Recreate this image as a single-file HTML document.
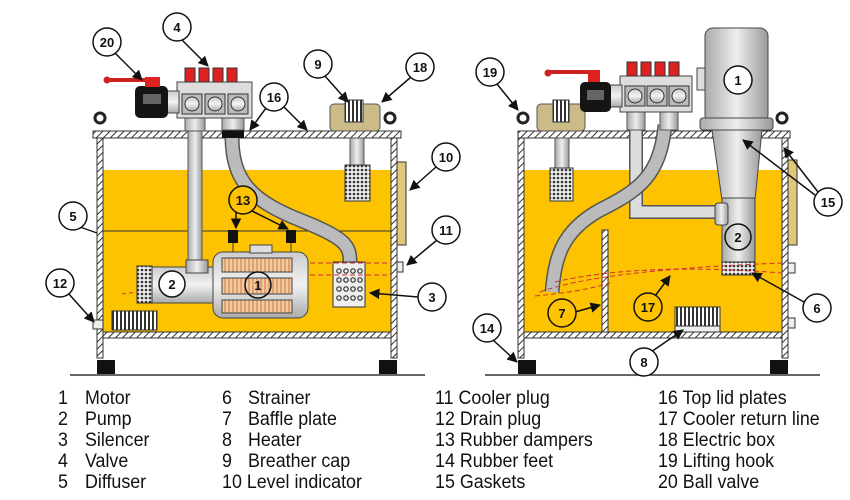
<!DOCTYPE html>
<html><head><meta charset="utf-8"><style>
html,body{margin:0;padding:0;background:#fff;}
svg{display:block;}
.t{font-family:"Liberation Sans",sans-serif;font-size:19px;fill:#111;}
.c{font-family:"Liberation Sans",sans-serif;font-size:13px;font-weight:bold;fill:#111;text-anchor:middle;}
</style></head><body>
<svg width="850" height="500" viewBox="0 0 850 500" xmlns="http://www.w3.org/2000/svg">
<defs>
<pattern id="h" width="5" height="5" patternUnits="userSpaceOnUse" patternTransform="rotate(45)"><rect width="5" height="5" fill="#fff"/><line x1="0" y1="0" x2="0" y2="5" stroke="#333" stroke-width="2"/></pattern>
<pattern id="m" width="4" height="4" patternUnits="userSpaceOnUse"><rect width="4" height="4" fill="#eee"/><circle cx="2" cy="2" r="1.3" fill="#333"/></pattern>
<pattern id="f" width="4" height="4" patternUnits="userSpaceOnUse"><rect width="4" height="4" fill="#f3c9a0"/><line x1="1" y1="0" x2="1" y2="4" stroke="#c97a40" stroke-width="1"/></pattern>
<pattern id="hz" width="4" height="4" patternUnits="userSpaceOnUse"><rect width="4" height="4" fill="#fff"/><line x1="1" y1="0" x2="1" y2="4" stroke="#333" stroke-width="2"/></pattern>
<linearGradient id="g" x1="0" y1="0" x2="1" y2="0"><stop offset="0" stop-color="#aaa"/><stop offset="0.5" stop-color="#eee"/><stop offset="1" stop-color="#999"/></linearGradient>
<linearGradient id="gv" x1="0" y1="0" x2="0" y2="1"><stop offset="0" stop-color="#ccc"/><stop offset="0.5" stop-color="#f2f2f2"/><stop offset="1" stop-color="#aaa"/></linearGradient>
<marker id="a" viewBox="0 0 10 10" refX="9" refY="5" markerWidth="7" markerHeight="7" orient="auto"><path d="M0,0L10,5L0,10z" fill="#111"/></marker>
</defs>

<!-- ============ LEFT TANK ============ -->
<line x1="70" y1="375" x2="425" y2="375" stroke="#333" stroke-width="1.5"/>
<rect x="103" y="170" width="288" height="162" fill="#fdc300"/>
<line x1="103" y1="231" x2="391" y2="231" stroke="#333" stroke-width="1"/>
<rect x="97" y="138" width="6" height="220" fill="url(#h)" stroke="#333"/>
<rect x="391" y="138" width="6" height="220" fill="url(#h)" stroke="#333"/>
<rect x="93" y="131" width="308" height="7" fill="url(#h)" stroke="#333"/>
<rect x="103" y="332" width="288" height="6" fill="url(#h)" stroke="#333"/>
<rect x="97" y="360" width="18" height="14" fill="#111"/><rect x="379" y="360" width="18" height="14" fill="#111"/>
<circle cx="100" cy="118" r="5" fill="none" stroke="#222" stroke-width="3"/>
<circle cx="390" cy="118" r="5" fill="none" stroke="#222" stroke-width="3"/>
<rect x="397" y="162" width="9" height="83" fill="#e2c77a" stroke="#333"/>
<rect x="397" y="262" width="6" height="10" fill="#eee" stroke="#333"/>
<rect x="93" y="320" width="10" height="9" fill="#eee" stroke="#333"/>
<rect x="112" y="311" width="45" height="19" fill="url(#hz)" stroke="#333"/>
<rect x="188" y="118" width="14" height="145" fill="url(#g)" stroke="#555"/>
<path d="M232,136 C232,180 250,200 300,220 C345,238 350,245 350,262" fill="none" stroke="#555" stroke-width="15"/>
<path d="M232,136 C232,180 250,200 300,220 C345,238 350,245 350,262" fill="none" stroke="#bbb" stroke-width="12"/>
<rect x="222" y="129" width="22" height="9" fill="#111"/>
<rect x="150" y="267" width="68" height="36" fill="url(#gv)" stroke="#444"/>
<rect x="137" y="266" width="15" height="37" fill="url(#m)" stroke="#333"/>
<rect x="186" y="260" width="22" height="13" fill="url(#g)" stroke="#444"/>
<rect x="213" y="252" width="95" height="66" rx="10" fill="url(#gv)" stroke="#444"/>
<rect x="250" y="245" width="22" height="8" fill="#ddd" stroke="#444"/>
<rect x="222" y="258" width="70" height="14" fill="url(#f)" stroke="#444"/>
<rect x="222" y="278" width="70" height="16" fill="url(#f)" stroke="#444"/>
<rect x="222" y="300" width="70" height="13" fill="url(#f)" stroke="#444"/>
<rect x="228" y="230" width="10" height="13" fill="#111"/><rect x="286" y="230" width="10" height="13" fill="#111"/>
<line x1="233" y1="243" x2="233" y2="252" stroke="#333"/><line x1="291" y1="243" x2="291" y2="252" stroke="#333"/>
<rect x="333" y="262" width="32" height="45" fill="#eee" stroke="#333"/>
<g fill="none" stroke="#333" stroke-width="1.2">
<circle cx="339" cy="271" r="2.2"/><circle cx="346" cy="271" r="2.2"/><circle cx="353" cy="271" r="2.2"/><circle cx="360" cy="271" r="2.2"/>
<circle cx="339" cy="280" r="2.2"/><circle cx="346" cy="280" r="2.2"/><circle cx="353" cy="280" r="2.2"/><circle cx="360" cy="280" r="2.2"/>
<circle cx="339" cy="289" r="2.2"/><circle cx="346" cy="289" r="2.2"/><circle cx="353" cy="289" r="2.2"/><circle cx="360" cy="289" r="2.2"/>
<circle cx="339" cy="298" r="2.2"/><circle cx="346" cy="298" r="2.2"/><circle cx="353" cy="298" r="2.2"/><circle cx="360" cy="298" r="2.2"/></g>
<line x1="310" y1="263" x2="391" y2="263" stroke="#c33" stroke-dasharray="5,3"/>
<line x1="310" y1="275" x2="391" y2="275" stroke="#c33" stroke-dasharray="5,3"/>
<line x1="122" y1="294" x2="137" y2="292" stroke="#c33" stroke-dasharray="4,3"/>
<rect x="330" y="104" width="50" height="27" rx="4" fill="#cbbb88" stroke="#555"/>
<rect x="345" y="100" width="18" height="22" fill="url(#hz)" stroke="#333"/>
<rect x="350" y="138" width="14" height="28" fill="url(#g)" stroke="#555"/>
<rect x="345" y="165" width="25" height="36" fill="url(#m)" stroke="#333"/>
<rect x="185" y="118" width="20" height="13" fill="url(#g)" stroke="#555"/>
<rect x="222" y="118" width="22" height="12" fill="url(#g)" stroke="#555"/>
<rect x="177" y="82" width="75" height="36" fill="#ddd" stroke="#444"/>
<rect x="182" y="94" width="20" height="20" fill="#bbb" stroke="#333"/><circle cx="192" cy="104" r="7" fill="url(#gv)" stroke="#333"/>
<rect x="205" y="94" width="20" height="20" fill="#bbb" stroke="#333"/><circle cx="215" cy="104" r="7" fill="url(#gv)" stroke="#333"/>
<rect x="228" y="94" width="20" height="20" fill="#bbb" stroke="#333"/><circle cx="238" cy="104" r="7" fill="url(#gv)" stroke="#333"/>
<g fill="#d22" stroke="#333"><rect x="185" y="68" width="10" height="14"/><rect x="199" y="68" width="10" height="14"/><rect x="213" y="68" width="10" height="14"/><rect x="227" y="68" width="10" height="14"/></g>
<rect x="167" y="91" width="12" height="22" fill="url(#gv)" stroke="#444"/>
<rect x="135" y="86" width="33" height="32" rx="5" fill="#151515"/><rect x="143" y="94" width="18" height="10" fill="#666"/>
<line x1="107" y1="80" x2="152" y2="80" stroke="#c22" stroke-width="4"/><circle cx="107" cy="80" r="3.5" fill="#c22"/>
<rect x="145" y="77" width="15" height="10" fill="#d22"/>

<!-- ============ RIGHT TANK ============ -->
<line x1="485" y1="375" x2="820" y2="375" stroke="#333" stroke-width="1.5"/>
<rect x="524" y="170" width="258" height="162" fill="#fdc300"/>
<rect x="518" y="138" width="6" height="220" fill="url(#h)" stroke="#333"/>
<rect x="782" y="138" width="6" height="220" fill="url(#h)" stroke="#333"/>
<rect x="518" y="131" width="272" height="7" fill="url(#h)" stroke="#333"/>
<rect x="524" y="332" width="258" height="6" fill="url(#h)" stroke="#333"/>
<rect x="518" y="360" width="18" height="14" fill="#111"/><rect x="770" y="360" width="18" height="14" fill="#111"/>
<circle cx="523" cy="118" r="5" fill="none" stroke="#222" stroke-width="3"/>
<circle cx="782" cy="118" r="5" fill="none" stroke="#222" stroke-width="3"/>
<rect x="788" y="160" width="9" height="85" fill="#e2c77a" stroke="#333"/>
<rect x="788" y="263" width="7" height="10" fill="#eee" stroke="#333"/>
<rect x="788" y="318" width="7" height="10" fill="#eee" stroke="#333"/>
<rect x="602" y="230" width="6" height="102" fill="url(#h)" stroke="#333"/>
<rect x="675" y="307" width="45" height="19" fill="url(#hz)" stroke="#333"/>
<rect x="675" y="326" width="45" height="6" fill="#eee" stroke="#333"/>
<path d="M636,118 L636,212 L720,212" fill="none" stroke="#555" stroke-width="14"/>
<path d="M636,118 L636,212 L720,212" fill="none" stroke="#ddd" stroke-width="11"/>
<path d="M665,125 C660,175 640,190 600,210 C560,232 555,260 552,292" fill="none" stroke="#555" stroke-width="15"/>
<path d="M665,125 C660,175 640,190 600,210 C560,232 555,260 552,292" fill="none" stroke="#bbb" stroke-width="12"/>
<path d="M712,130 L762,130 L755,200 L722,200 Z" fill="url(#g)" stroke="#444"/>
<rect x="722" y="198" width="33" height="64" fill="url(#g)" stroke="#444"/>
<rect x="715" y="203" width="13" height="22" rx="3" fill="url(#g)" stroke="#444"/>
<rect x="722" y="262" width="33" height="13" fill="url(#m)" stroke="#333"/>
<rect x="705" y="28" width="63" height="95" rx="8" fill="url(#g)" stroke="#444"/>
<rect x="700" y="118" width="73" height="12" rx="3" fill="url(#g)" stroke="#444"/>
<rect x="697" y="68" width="8" height="22" fill="#ddd" stroke="#444"/>
<path d="M540,292 Q600,270 782,263" fill="none" stroke="#c33" stroke-dasharray="5,3"/>
<path d="M555,282 Q640,262 782,273" fill="none" stroke="#c33" stroke-dasharray="5,3"/>
<path d="M535,296 Q580,292 610,283" fill="none" stroke="#c33" stroke-dasharray="5,3"/>
<rect x="537" y="104" width="48" height="27" rx="4" fill="#cbbb88" stroke="#555"/>
<rect x="553" y="100" width="16" height="22" fill="url(#hz)" stroke="#333"/>
<rect x="555" y="138" width="14" height="30" fill="url(#g)" stroke="#555"/>
<rect x="550" y="168" width="23" height="33" fill="url(#m)" stroke="#333"/>
<rect x="627" y="112" width="18" height="18" fill="url(#g)" stroke="#555"/>
<rect x="660" y="112" width="18" height="18" fill="url(#g)" stroke="#555"/>
<rect x="620" y="76" width="72" height="36" fill="#ddd" stroke="#444"/>
<rect x="625" y="86" width="20" height="20" fill="#bbb" stroke="#333"/><circle cx="635" cy="96" r="7" fill="url(#gv)" stroke="#333"/>
<rect x="647" y="86" width="20" height="20" fill="#bbb" stroke="#333"/><circle cx="657" cy="96" r="7" fill="url(#gv)" stroke="#333"/>
<rect x="669" y="86" width="20" height="20" fill="#bbb" stroke="#333"/><circle cx="679" cy="96" r="7" fill="url(#gv)" stroke="#333"/>
<g fill="#d22" stroke="#333"><rect x="627" y="62" width="10" height="14"/><rect x="641" y="62" width="10" height="14"/><rect x="655" y="62" width="10" height="14"/><rect x="669" y="62" width="10" height="14"/></g>
<rect x="610" y="85" width="12" height="22" fill="url(#gv)" stroke="#444"/>
<rect x="580" y="82" width="31" height="30" rx="5" fill="#151515"/><rect x="587" y="90" width="17" height="10" fill="#666"/>
<line x1="548" y1="72" x2="600" y2="72" stroke="#c22" stroke-width="4"/><circle cx="548" cy="73" r="3.5" fill="#c22"/>
<rect x="588" y="70" width="12" height="12" fill="#d22"/>

<!-- ============ CALLOUTS ============ -->
<g stroke="#111" stroke-width="1.5" marker-end="url(#a)">
<line x1="115" y1="53" x2="142" y2="80"/>
<line x1="182" y1="40" x2="208" y2="66"/>
<line x1="266" y1="108" x2="250" y2="130"/>
<line x1="284" y1="107" x2="307" y2="130"/>
<line x1="325" y1="76" x2="348" y2="102"/>
<line x1="411" y1="77" x2="382" y2="102"/>
<line x1="436" y1="167" x2="410" y2="190"/>
<line x1="437" y1="240" x2="407" y2="265"/>
<line x1="418" y1="297" x2="370" y2="293"/>
<line x1="68" y1="293" x2="94" y2="322"/>
<line x1="236" y1="210" x2="236" y2="228"/>
<line x1="250" y1="210" x2="288" y2="229"/>
<line x1="497" y1="84" x2="518" y2="110"/>
<line x1="815" y1="195" x2="743" y2="140"/>
<line x1="818" y1="192" x2="784" y2="148"/>
<line x1="804" y1="302" x2="752" y2="273"/>
<line x1="575" y1="312" x2="600" y2="305"/>
<line x1="655" y1="296" x2="670" y2="276"/>
<line x1="651" y1="352" x2="683" y2="330"/>
<line x1="493" y1="340" x2="517" y2="362"/>
</g>
<line x1="80" y1="227" x2="97" y2="233" stroke="#111" stroke-width="1.2"/>
<g stroke="#111" stroke-width="1.5" fill="#fff">
<circle cx="107" cy="42" r="14"/><circle cx="177" cy="27" r="14"/><circle cx="274" cy="97" r="14"/>
<circle cx="318" cy="64" r="14"/><circle cx="420" cy="67" r="14"/><circle cx="446" cy="157" r="14"/>
<circle cx="73" cy="216" r="14"/><circle cx="446" cy="230" r="14"/><circle cx="60" cy="283" r="14"/>
<circle cx="432" cy="297" r="14"/><circle cx="172" cy="284" r="13"/>
<circle cx="490" cy="72" r="14"/><circle cx="738" cy="80" r="14"/><circle cx="828" cy="202" r="14"/>
<circle cx="738" cy="237" r="13" fill="none"/><circle cx="817" cy="308" r="14"/><circle cx="487" cy="328" r="14"/>
<circle cx="644" cy="362" r="14"/>
</g>
<g stroke="#111" stroke-width="1.5" fill="#fdc300">
<circle cx="243" cy="200" r="14"/><circle cx="562" cy="313" r="14"/><circle cx="648" cy="307" r="14"/>
</g>
<circle cx="258" cy="285" r="13" fill="none" stroke="#111" stroke-width="1.5"/>
<g class="c">
<text x="107" y="47">20</text><text x="177" y="32">4</text><text x="274" y="102">16</text>
<text x="318" y="69">9</text><text x="420" y="72">18</text><text x="446" y="162">10</text>
<text x="73" y="221">5</text><text x="446" y="235">11</text><text x="60" y="288">12</text>
<text x="432" y="302">3</text><text x="172" y="289">2</text><text x="258" y="290">1</text><text x="243" y="205">13</text>
<text x="490" y="77">19</text><text x="738" y="85">1</text><text x="828" y="207">15</text>
<text x="738" y="242">2</text><text x="817" y="313">6</text><text x="487" y="333">14</text>
<text x="644" y="367">8</text><text x="562" y="318">7</text><text x="648" y="312">17</text>
</g>

<!-- ============ LEGEND ============ -->
<g class="t" transform="scale(0.94,1)">
<text x="61.7" y="404">1</text><text x="90.4" y="404">Motor</text>
<text x="61.7" y="425">2</text><text x="90.4" y="425">Pump</text>
<text x="61.7" y="446">3</text><text x="90.4" y="446">Silencer</text>
<text x="61.7" y="467">4</text><text x="90.4" y="467">Valve</text>
<text x="61.7" y="488">5</text><text x="90.4" y="488">Diffuser</text>
<text x="236.2" y="404">6</text><text x="263.8" y="404">Strainer</text>
<text x="236.2" y="425">7</text><text x="263.8" y="425">Baffle plate</text>
<text x="236.2" y="446">8</text><text x="263.8" y="446">Heater</text>
<text x="236.2" y="467">9</text><text x="263.8" y="467">Breather cap</text>
<text x="236.2" y="488">10 Level indicator</text>
<text x="462.8" y="404">11 Cooler plug</text>
<text x="462.8" y="425">12 Drain plug</text>
<text x="462.8" y="446">13 Rubber dampers</text>
<text x="462.8" y="467">14 Rubber feet</text>
<text x="462.8" y="488">15 Gaskets</text>
<text x="700" y="404">16 Top lid plates</text>
<text x="700" y="425">17 Cooler return line</text>
<text x="700" y="446">18 Electric box</text>
<text x="700" y="467">19 Lifting hook</text>
<text x="700" y="488">20 Ball valve</text>
</g>
</svg>
</body></html>
